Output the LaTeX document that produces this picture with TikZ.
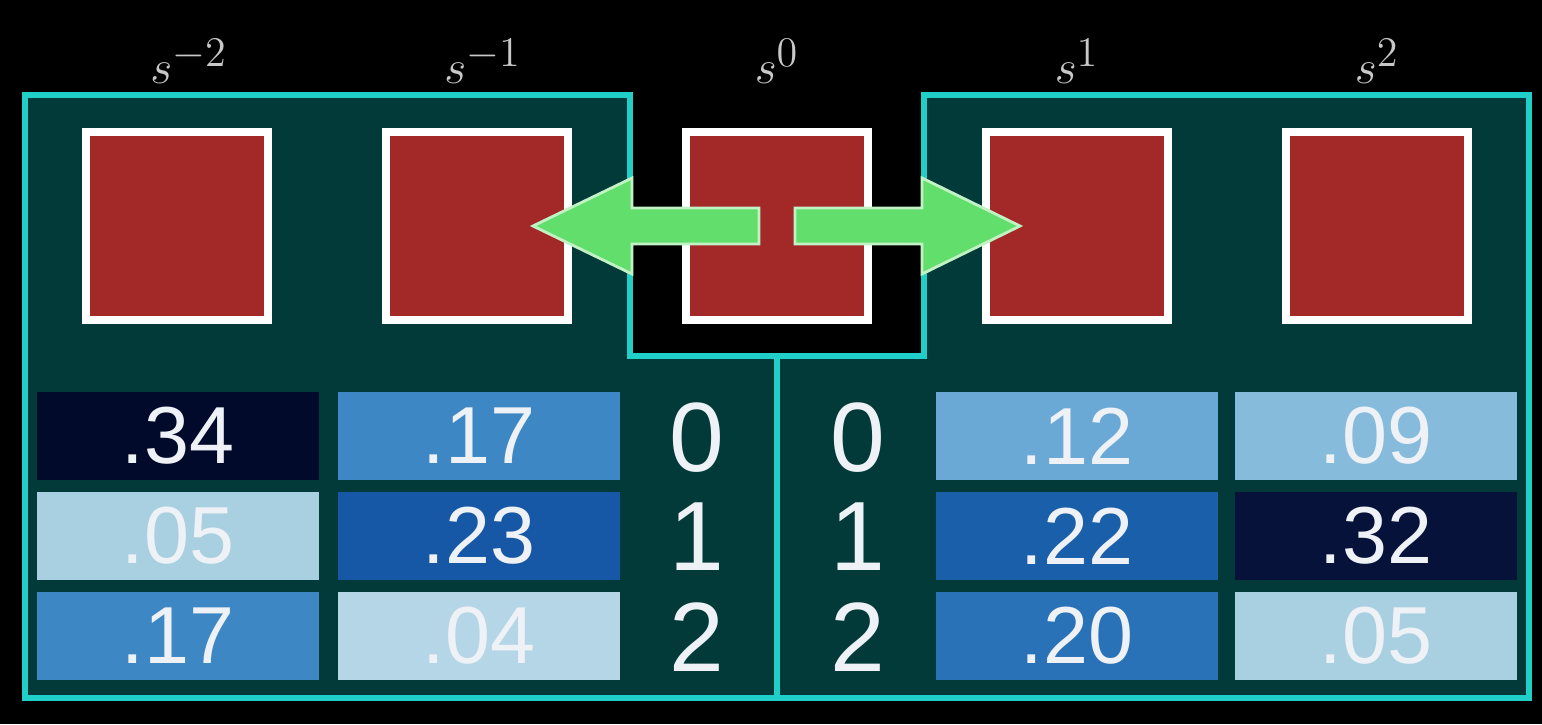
\RequirePackage{fix-cm}
\documentclass[tikz,border=0pt]{standalone}
\usepackage{fontspec}
\usepackage{amsmath}
\usetikzlibrary{positioning}
\newfontfamily\numfont{Liberation Sans}
\DeclareMathSizes{12}{13.5}{12}{8}
\definecolor{tealbg}{RGB}{1,58,56}
\definecolor{cyanline}{RGB}{32,208,200}
\definecolor{patchred}{RGB}{163,40,40}
\definecolor{arrowgreen}{RGB}{98,222,108}
\definecolor{lblgray}{RGB}{200,200,200}
\definecolor{numwhite}{RGB}{238,242,246}
\definecolor{bA}{RGB}{2,10,44}
\definecolor{bB}{RGB}{61,136,196}
\definecolor{bC}{RGB}{169,208,225}
\definecolor{bD}{RGB}{22,88,166}
\definecolor{bE}{RGB}{180,214,230}
\definecolor{bF}{RGB}{106,168,214}
\definecolor{bG}{RGB}{134,187,220}
\definecolor{bH}{RGB}{26,95,170}
\definecolor{bI}{RGB}{6,18,58}
\definecolor{bJ}{RGB}{42,114,184}
\begin{document}
\begin{tikzpicture}[x=0.01cm,y=-0.01cm,
    patch/.style={draw=white,line width=2.3pt,fill=patchred,minimum width=1.82cm,minimum height=1.87cm,inner sep=0},
    cell/.style={fill=#1,minimum width=2.82cm,minimum height=0.88cm,inner sep=0,text=numwhite,font=\numfont\fontsize{23}{26}\selectfont},
    idx/.style={text=numwhite,inner sep=0,font=\numfont\fontsize{28}{32}\selectfont},
    lbl/.style={text=lblgray,inner sep=0,font=\large},
    blockarrow/.style={fill=arrowgreen,draw=arrowgreen!40!white,line width=0.8pt,line join=miter}]
    % 背景
    \fill[black] (0,0) rectangle (1542,724);
    % 外框
    \draw[fill=tealbg,draw=cyanline,line width=1.7pt]
        (25,95) -- (630,95) -- (630,356) -- (924,356) -- (924,95) -- (1529,95)
        -- (1529,698) -- (25,698) -- cycle;
    \draw[cyanline,line width=1.7pt] (777,356) -- (777,698);
    % 五个方块
    \node[patch] (sqm2) at (177,226) {};
    \node[patch] (sqm1) at (477,226) {};
    \node[patch] (sq0) at (777,226) {};
    \node[patch] (sq1) at (1077,226) {};
    \node[patch] (sq2) at (1377,226) {};
    % 标签
    \node[lbl,above=0.44cm of sqm2,xshift=0.12cm] (lm2) {$s^{-2}$};
    \node[lbl,above=0.44cm of sqm1,xshift=0.06cm] (lm1) {$s^{-1}$};
    \node[lbl,above=0.44cm of sq0] (l0) {$s^{0}$};
    \node[lbl,above=0.44cm of sq1] (l1) {$s^{1}$};
    \node[lbl,above=0.44cm of sq2] (l2) {$s^{2}$};
    % 双向箭头
    \draw[blockarrow] (759,208) -- (632,208) -- (632,178) -- (533,226)
        -- (632,274) -- (632,244) -- (759,244) -- cycle;
    \draw[blockarrow] (795,208) -- (922,208) -- (922,178) -- (1020,226)
        -- (922,274) -- (922,244) -- (795,244) -- cycle;
    % 左侧概率
    \node[cell=bA] (a0) at (178,436) {.34};
    \node[cell=bC] (a1) at (178,536) {.05};
    \node[cell=bB] (a2) at (178,636) {.17};
    \node[cell=bB] (b0) at (479,436) {.17};
    \node[cell=bD] (b1) at (479,536) {.23};
    \node[cell=bE] (b2) at (479,636) {.04};
    % 中间序号
    \node[idx] (il0) at (697,438) {0};
    \node[idx] (il1) at (697,537) {1};
    \node[idx] (il2) at (697,637) {2};
    \node[idx] (ir0) at (858,438) {0};
    \node[idx] (ir1) at (858,537) {1};
    \node[idx] (ir2) at (858,637) {2};
    % 右侧概率
    \node[cell=bF] (c0) at (1077,436) {.12};
    \node[cell=bH] (c1) at (1077,536) {.22};
    \node[cell=bJ] (c2) at (1077,636) {.20};
    \node[cell=bG] (d0) at (1376,436) {.09};
    \node[cell=bI] (d1) at (1376,536) {.32};
    \node[cell=bC] (d2) at (1376,636) {.05};
\end{tikzpicture}
\end{document}
